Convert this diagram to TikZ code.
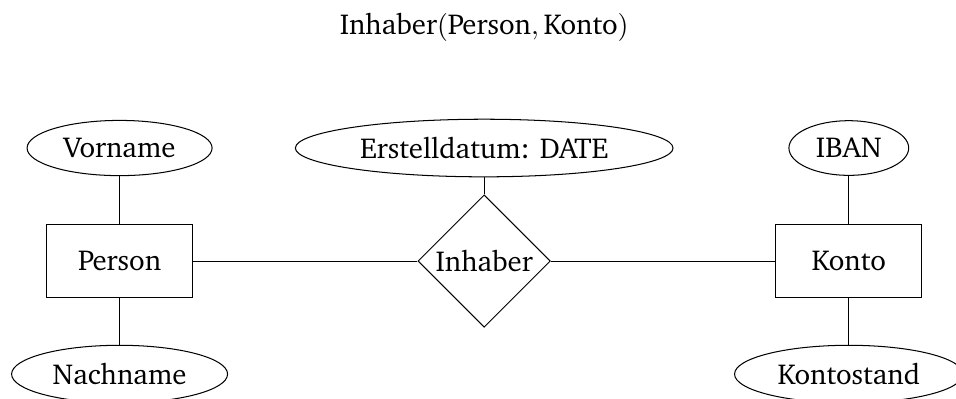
\documentclass[tikz,border=0pt]{standalone}
\usepackage[T1]{fontenc}
\usepackage{charter}
\usepackage{tikz}
\usetikzlibrary{shapes.geometric}

\tikzset{
  every node/.style={font=\fontsize{11.25}{13.5}\selectfont},
  entity/.style={draw, rectangle, minimum width=2cm, minimum height=1cm},
  attribute/.style={draw, ellipse, inner sep=3.7pt},
  relation/.style={draw, diamond, inner sep=1.3pt}
}

\begin{document}
\begin{tikzpicture}
		\useasboundingbox (-1.64,-1.88) rectangle (11.47,3.58);
		% ueberschrift
		\node (title) at (5,3.2) {Inhaber$(\textrm{Person}, \textrm{Konto})$};
		% entitaeten
		\node [entity] (person) at (0,0) {Person};
		\node [entity] (konto) at (10,0) {Konto};
		% beziehung
		\node [relation] (inhaber) at (5,0) {Inhaber};
		% attribute
		\node [attribute] (vorname) at (0,1.55) {Vorname};
		\node [attribute] (nachname) at (0,-1.55) {Nachname};
		\node [attribute] (datum) at (5,1.55) {Erstelldatum: DATE};
		\node [attribute] (iban) at (10,1.55) {IBAN};
		\node [attribute] (stand) at (10,-1.55) {Kontostand};
		% kanten
		\draw (person) -- (inhaber);
		\draw (inhaber) -- (konto);
		\draw (vorname) -- (person);
		\draw (nachname) -- (person);
		\draw (datum) -- (inhaber);
		\draw (iban) -- (konto);
		\draw (stand) -- (konto);
\end{tikzpicture}
\end{document}
